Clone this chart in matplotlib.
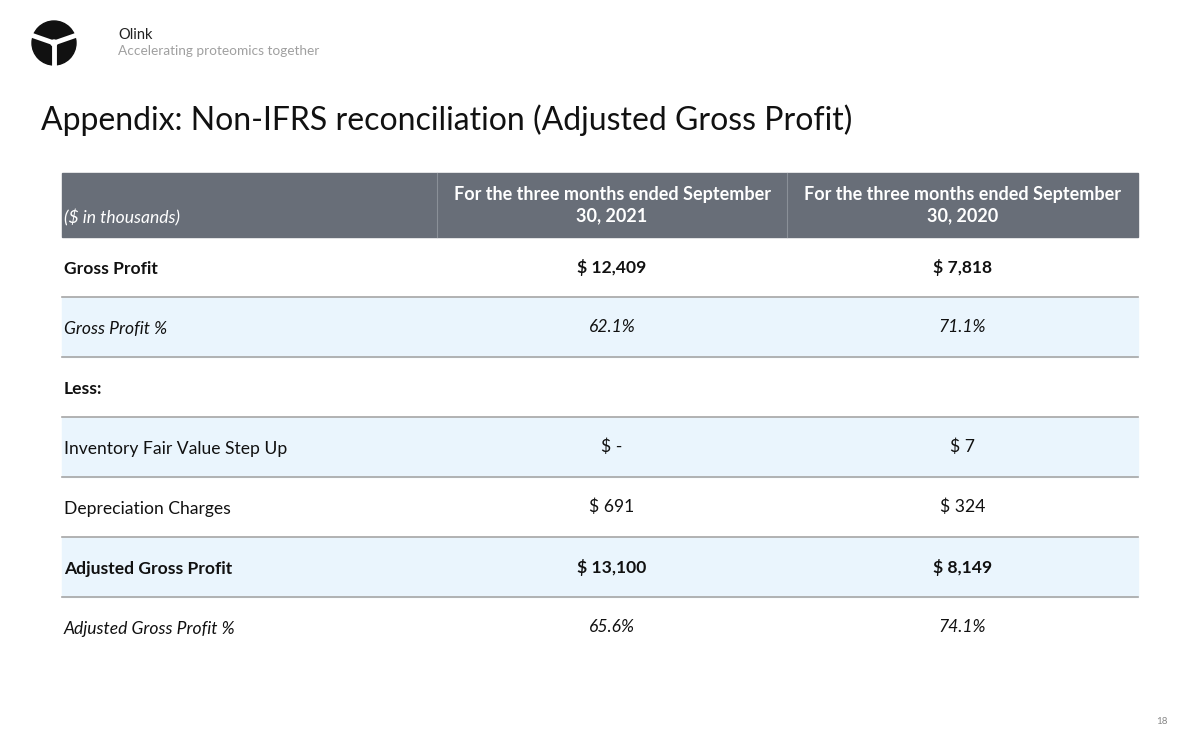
import matplotlib.pyplot as plt
from matplotlib.patches import Rectangle, Circle

plt.rcParams['font.family'] = ['Lato', 'DejaVu Sans']

# table content
col_headers = ["For the three months ended September\n30, 2021",
               "For the three months ended September\n30, 2020"]
unit_label = "($ in thousands)"
row_labels = ["Gross Profit", "Gross Profit %", "Less:",
              "Inventory Fair Value Step Up", "Depreciation Charges",
              "Adjusted Gross Profit", "Adjusted Gross Profit %"]
values_2021 = ["$ 12,409", "62.1%", "", "$ -", "$ 691", "$ 13,100", "65.6%"]
values_2020 = ["$ 7,818", "71.1%", "", "$ 7", "$ 324", "$ 8,149", "74.1%"]
row_weight = ["bold", "normal", "bold", "normal", "normal", "bold", "normal"]
row_style = ["normal", "italic", "normal", "normal", "normal", "normal", "italic"]
row_shaded = [False, True, False, True, False, True, False]

fig = plt.figure(figsize=(12, 7.5), dpi=100)
ax = fig.add_axes([0, 0, 1, 1])
ax.set_xlim(0, 1200)
ax.set_ylim(750, 0)
ax.axis('off')

# logo
ax.add_patch(Circle((54, 43), 22, color='#111111', zorder=2))
for dx, dy in [(0, 24), (-23, -8), (23, -8)]:
    ax.plot([54, 54 + dx * 1.1], [43, 43 + dy * 1.1], color='white', lw=3.5,
            solid_capstyle='butt', zorder=3)
ax.add_patch(Circle((54, 43), 3, color='white', zorder=4))
ax.text(118, 35, "Olink", fontsize=10.5, color='#222222', va='center')
ax.text(118, 51, "Accelerating proteomics together", fontsize=9.8,
        color='#a0a0a0', va='center')

ax.text(41, 120, "Appendix: Non-IFRS reconciliation (Adjusted Gross Profit)",
        fontsize=23, color='#111111', va='center')

# table geometry
left, right = 62, 1138
col_edges = [437, 787]
header_top, header_h = 173, 64
row_h = 60
col_centers = [(col_edges[0] + col_edges[1]) / 2, (col_edges[1] + right) / 2]

ax.add_patch(Rectangle((left, header_top), right - left, header_h,
                       color='#686e78', zorder=1))
for x in col_edges:
    ax.plot([x, x], [header_top, header_top + header_h], color='#8a9098', lw=0.8)
ax.text(64, header_top + 45, unit_label, fontsize=12.6, style='italic',
        color='white', va='center')
for cx, h in zip(col_centers, col_headers):
    ax.text(cx, header_top + 32, h, fontsize=13, weight='bold', color='white',
            ha='center', va='center', linespacing=1.3)

top = header_top + header_h
for i, lab in enumerate(row_labels):
    y0 = top + i * row_h
    if row_shaded[i]:
        ax.add_patch(Rectangle((left, y0), right - left, row_h,
                               color='#eaf5fd', zorder=0))
    if i > 0:
        ax.plot([left, right], [y0, y0], color='#a6a6a6', lw=1.2)
    yc = y0 + 32
    ax.text(64, yc, lab, fontsize=12.6, weight=row_weight[i], style=row_style[i],
            color='#111111', va='center')
    for cx, v in zip(col_centers, [values_2021[i], values_2020[i]]):
        ax.text(cx, yc - 2, v, fontsize=12.6, weight=row_weight[i],
                style=row_style[i], color='#111111', ha='center', va='center')

ax.text(1162, 722, "18", fontsize=7, color='#888888', ha='center', va='center')

fig.savefig("out.png", dpi=100)
